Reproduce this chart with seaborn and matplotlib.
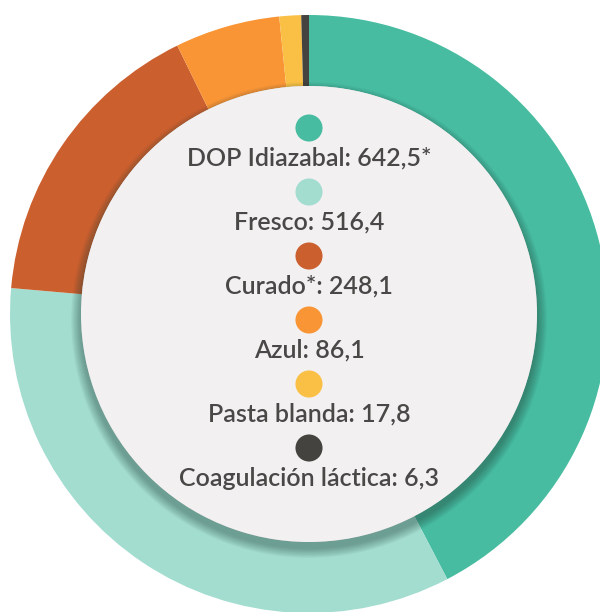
import numpy as np
import matplotlib
matplotlib.use("Agg")
import matplotlib.pyplot as plt
from matplotlib.patches import Circle
import pandas as pd
import seaborn as sns

# data
categories = ["DOP Idiazabal", "Fresco", "Curado*", "Azul", "Pasta blanda", "Coagulación láctica"]
values = [642.5, 516.4, 248.1, 86.1, 17.8, 6.3]
labels = ["DOP Idiazabal: 642,5*", "Fresco: 516,4", "Curado*: 248,1",
          "Azul: 86,1", "Pasta blanda: 17,8", "Coagulación láctica: 6,3"]
colors = ["#47bca0", "#a3ddd0", "#cc5f2e", "#f99535", "#fac045", "#454340"]

sns.set_theme(style="white")
plt.rcParams['font.family'] = ['Lato', 'DejaVu Sans']

fig = plt.figure(figsize=(6.0, 6.12), dpi=100)
ax = fig.add_axes([0, 0, 1, 1])

W, H = 600, 612
cx, cy = 309, H - 314
r_out, r_in = 299, 228

ax.pie(values, colors=colors, startangle=90, counterclock=False,
       center=(cx, cy), radius=r_out,
       wedgeprops=dict(width=r_out - r_in, linewidth=0))

# soft shadow under the inner disc
n = 16
for i in range(n):
    ax.add_patch(Circle((cx, cy - 6), r_in + 10 * (1 - i / n), color="#1f3d35",
                        alpha=0.028, lw=0, zorder=3))
ax.add_patch(Circle((cx, cy), r_in, color="#f2f0f1", lw=0, zorder=4))

# legend inside the donut
leg = pd.DataFrame({"cat": categories, "label": labels})
leg["x"] = cx
leg["y"] = H - (128 + 64 * np.arange(len(categories)))
sns.scatterplot(data=leg, x="x", y="y", hue="cat", palette=colors, s=380,
                linewidth=0, legend=False, ax=ax, zorder=5)
for _, row in leg.iterrows():
    ax.text(row["x"], row["y"] - 30, row["label"], ha="center", va="center",
            fontsize=18, color="#4a4846", fontweight="semibold", zorder=6)

ax.set_xlim(0, W)
ax.set_ylim(0, H)
ax.set_aspect("equal")
ax.axis("off")

fig.savefig("out.png", dpi=100, facecolor="white")
